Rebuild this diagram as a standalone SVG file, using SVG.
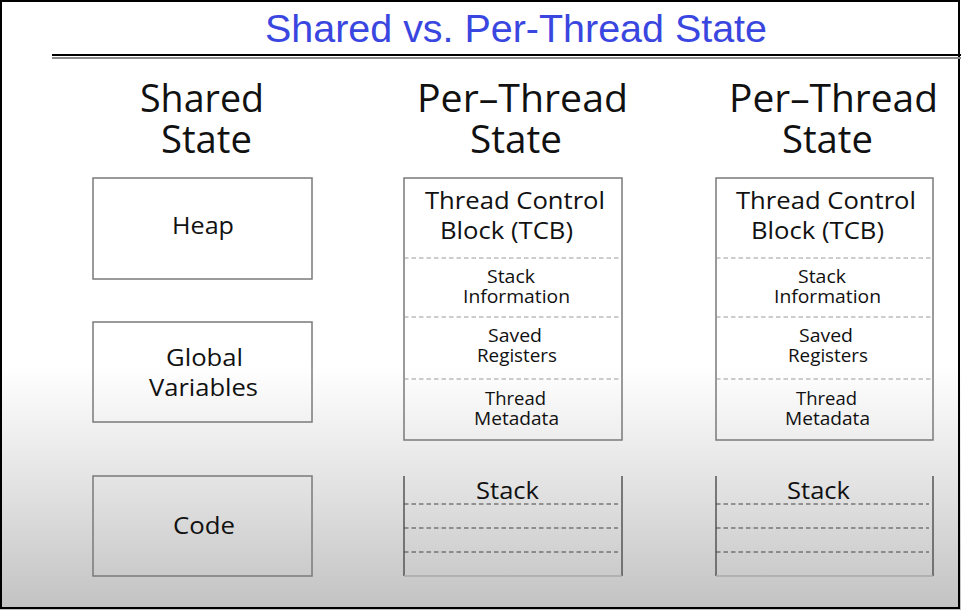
<svg xmlns="http://www.w3.org/2000/svg" width="961" height="610" viewBox="0 0 961 610">
<defs>
<linearGradient id="bg" x1="0" y1="0" x2="0" y2="610" gradientUnits="userSpaceOnUse">
<stop offset="0" stop-color="#ffffff"/>
<stop offset="0.6" stop-color="#ffffff"/>
<stop offset="0.8" stop-color="#e2e2e2"/>
<stop offset="1" stop-color="#c2c2c2"/>
</linearGradient>
<style>
.t{font-family:"Open Sans","Noto Sans","DejaVu Sans",sans-serif;fill:#111;text-anchor:middle}
.h{font-size:38px}
.m{font-size:23px}
.s{font-size:18px}
.box{fill:none;stroke:#7a7a7a;stroke-width:1.5}
.side{stroke:#555;stroke-width:1.5}
.bot{stroke:#a8a8a8;stroke-width:1.5}
.dl{stroke:#9a9a9a;stroke-width:1;stroke-dasharray:4.5 3}
.dd{stroke:#444;stroke-width:1;stroke-dasharray:4.5 3}
</style>
</defs>
<rect x="0" y="0" width="961" height="610" fill="url(#bg)"/>
<rect x="1" y="1" width="958" height="607" fill="none" stroke="#000" stroke-width="2"/>
<g id="title">
<text x="516" y="42" font-family="'Liberation Sans',Arial,sans-serif" font-size="38" fill="#3a46e0" text-anchor="middle" textLength="502" lengthAdjust="spacingAndGlyphs">Shared vs. Per-Thread State</text>
<line x1="52" y1="55" x2="961" y2="55" stroke="#000" stroke-width="2"/>
<line x1="52" y1="58" x2="961" y2="58" stroke="#8a8a8a" stroke-width="2"/>
</g>
<g id="header-shared">
<text class="t h" x="202" y="112" textLength="124" lengthAdjust="spacingAndGlyphs">Shared</text>
<text class="t h" x="206.5" y="153" textLength="91" lengthAdjust="spacingAndGlyphs">State</text>
</g>
<g id="header-thread1">
<text class="t h" x="522.5" y="112" textLength="211" lengthAdjust="spacingAndGlyphs">Per–Thread</text>
<text class="t h" x="516" y="153" textLength="92" lengthAdjust="spacingAndGlyphs">State</text>
</g>
<g id="header-thread2">
<text class="t h" x="833.5" y="112" textLength="209" lengthAdjust="spacingAndGlyphs">Per–Thread</text>
<text class="t h" x="827.5" y="153" textLength="91" lengthAdjust="spacingAndGlyphs">State</text>
</g>
<g id="heap">
<rect class="box" x="93" y="178" width="219" height="101"/>
<text class="t m" x="203" y="234" textLength="62" lengthAdjust="spacingAndGlyphs">Heap</text>
</g>
<g id="globals">
<rect class="box" x="93" y="322" width="219" height="100"/>
<text class="t m" x="204.5" y="366" textLength="77" lengthAdjust="spacingAndGlyphs">Global</text>
<text class="t m" x="203.5" y="396" textLength="109" lengthAdjust="spacingAndGlyphs">Variables</text>
</g>
<g id="code">
<rect class="box" x="93" y="476" width="219" height="100"/>
<text class="t m" x="204" y="534" textLength="62" lengthAdjust="spacingAndGlyphs">Code</text>
</g>
<g id="tcb1">
<rect class="box" x="404" y="178" width="218" height="262"/>
<line class="dl" x1="404" y1="258" x2="620" y2="258"/>
<line class="dl" x1="404" y1="317" x2="620" y2="317"/>
<line class="dl" x1="404" y1="379" x2="620" y2="379"/>
<text class="t" font-size="24" x="515" y="209" textLength="180" lengthAdjust="spacingAndGlyphs">Thread Control</text>
<text class="t" font-size="24" x="506.5" y="239" textLength="133" lengthAdjust="spacingAndGlyphs">Block (TCB)</text>
<text class="t s" x="511" y="283" textLength="48" lengthAdjust="spacingAndGlyphs">Stack</text>
<text class="t s" x="516.5" y="303" textLength="107" lengthAdjust="spacingAndGlyphs">Information</text>
<text class="t s" x="515" y="342" textLength="54" lengthAdjust="spacingAndGlyphs">Saved</text>
<text class="t s" x="517" y="362" textLength="80" lengthAdjust="spacingAndGlyphs">Registers</text>
<text class="t s" x="515.5" y="405" textLength="61" lengthAdjust="spacingAndGlyphs">Thread</text>
<text class="t s" x="516.5" y="425" textLength="85" lengthAdjust="spacingAndGlyphs">Metadata</text>
</g>
<g id="tcb2">
<rect class="box" x="716" y="178" width="217" height="262"/>
<line class="dl" x1="716" y1="258" x2="931" y2="258"/>
<line class="dl" x1="716" y1="317" x2="931" y2="317"/>
<line class="dl" x1="716" y1="379" x2="931" y2="379"/>
<text class="t" font-size="24" x="826" y="209" textLength="180" lengthAdjust="spacingAndGlyphs">Thread Control</text>
<text class="t" font-size="24" x="817.5" y="239" textLength="133" lengthAdjust="spacingAndGlyphs">Block (TCB)</text>
<text class="t s" x="822" y="283" textLength="48" lengthAdjust="spacingAndGlyphs">Stack</text>
<text class="t s" x="827.5" y="303" textLength="107" lengthAdjust="spacingAndGlyphs">Information</text>
<text class="t s" x="826" y="342" textLength="54" lengthAdjust="spacingAndGlyphs">Saved</text>
<text class="t s" x="828" y="362" textLength="80" lengthAdjust="spacingAndGlyphs">Registers</text>
<text class="t s" x="826.5" y="405" textLength="61" lengthAdjust="spacingAndGlyphs">Thread</text>
<text class="t s" x="827.5" y="425" textLength="85" lengthAdjust="spacingAndGlyphs">Metadata</text>
</g>
<g id="stack1">
<line class="side" x1="404" y1="476" x2="404" y2="576"/>
<line class="side" x1="622" y1="476" x2="622" y2="576"/>
<line class="bot" x1="404" y1="576" x2="622" y2="576"/>
<line class="dd" x1="404" y1="504" x2="618" y2="504"/>
<line class="dd" x1="404" y1="528" x2="618" y2="528"/>
<line class="dd" x1="404" y1="552" x2="618" y2="552"/>
<text class="t" font-size="24" x="507.5" y="499" textLength="63" lengthAdjust="spacingAndGlyphs">Stack</text>
</g>
<g id="stack2">
<line class="side" x1="716" y1="476" x2="716" y2="576"/>
<line class="side" x1="933" y1="476" x2="933" y2="576"/>
<line class="bot" x1="716" y1="576" x2="933" y2="576"/>
<line class="dd" x1="716" y1="504" x2="929" y2="504"/>
<line class="dd" x1="716" y1="528" x2="929" y2="528"/>
<line class="dd" x1="716" y1="552" x2="929" y2="552"/>
<text class="t" font-size="24" x="818.5" y="499" textLength="63" lengthAdjust="spacingAndGlyphs">Stack</text>
</g>
<g id="connectors"></g>
</svg>
